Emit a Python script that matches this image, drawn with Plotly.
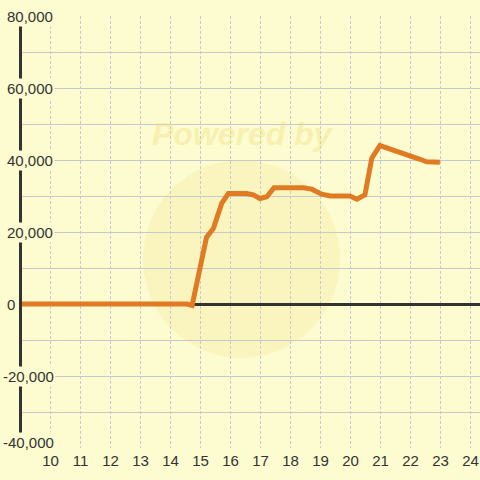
import plotly.graph_objects as go

# ---- data ----
x_vals = [8.93, 14.55, 14.72, 15.2, 15.43, 15.71, 15.93, 16.54, 16.76, 16.98, 17.21, 17.45,
          18.43, 18.71, 19.04, 19.32, 19.98, 20.21, 20.48, 20.71, 20.98, 21.21, 21.71,
          21.98, 22.32, 22.54, 22.98]
y_vals = [0, 0, -400, 18500, 21000, 28000, 30700, 30700, 30300, 29300, 29800, 32300,
          32300, 31900, 30500, 30000, 30000, 29100, 30300, 40500, 44000, 43400, 41900,
          41200, 40200, 39500, 39400]

x_ticks = list(range(10, 25))
y_label_vals = [80000, 60000, 40000, 20000, 0, -20000, -40000]
y_label_text = ["80,000", "60,000", "40,000", "20,000", "0", "-20,000", "-40,000"]

BG = "#FCFCD0"
FONT = "Liberation Sans, Arial, sans-serif"
TXT = "#333333"

fig = go.Figure()
fig.add_trace(go.Scatter(
    x=x_vals, y=y_vals, mode="lines",
    line=dict(color="#E07B24", width=5),
    hoverinfo="skip", showlegend=False,
))

# watermark
fig.add_shape(type="circle", xref="paper", yref="paper",
              x0=(143 - 22) / 458, x1=(340 - 22) / 458,
              y0=(448 - 358) / 432, y1=(448 - 160) / 432,
              fillcolor="#FAF4BE", line=dict(width=0), layer="below")
fig.add_annotation(text="<b><i>Powered by</i></b>", xref="paper", yref="paper",
                   x=(243 - 22) / 458, y=(448 - 134) / 432, showarrow=False,
                   xanchor="center", yanchor="middle",
                   font=dict(family=FONT, size=32, color="rgba(240,222,120,0.4)"))

y_min = min(y_label_vals)
for v, t in zip(y_label_vals, y_label_text):
    fig.add_annotation(
        text=t, xref="paper", yref="y", x=0, y=v,
        xanchor="left", yanchor="middle",
        xshift=-17 if v >= 0 else -21,
        yshift=6 if v == y_min else 0,
        showarrow=False, bgcolor=BG, borderpad=1,
        font=dict(family=FONT, size=15, color=TXT),
    )

fig.update_layout(
    width=480, height=480,
    margin=dict(l=22, r=0, t=16, b=32),
    paper_bgcolor=BG, plot_bgcolor=BG,
    showlegend=False,
    xaxis=dict(
        range=[9.05, 24.3167], tickmode="array", tickvals=x_ticks,
        ticktext=[str(v) for v in x_ticks],
        showgrid=True, gridcolor="#C8C8D0", gridwidth=1, griddash="3px,2px",
        showline=False, zeroline=False, ticks="",
        ticklabelstandoff=2,
        tickfont=dict(family=FONT, size=15, color=TXT),
        fixedrange=True,
    ),
    yaxis=dict(
        range=[-40000, 80000], tickmode="linear", tick0=0, dtick=10000,
        showticklabels=False, ticks="",
        showgrid=True, gridcolor="#C8C8C8", gridwidth=1,
        showline=True, linecolor="#333333", linewidth=3,
        zeroline=True, zerolinecolor="#333333", zerolinewidth=3,
        fixedrange=True,
    ),
)

fig.write_html(
    "out.html",
    config={"displayModeBar": False},
    post_script="document.body.style.margin='0';document.body.style.background='" + BG + "';document.body.style.overflow='hidden';",
)
